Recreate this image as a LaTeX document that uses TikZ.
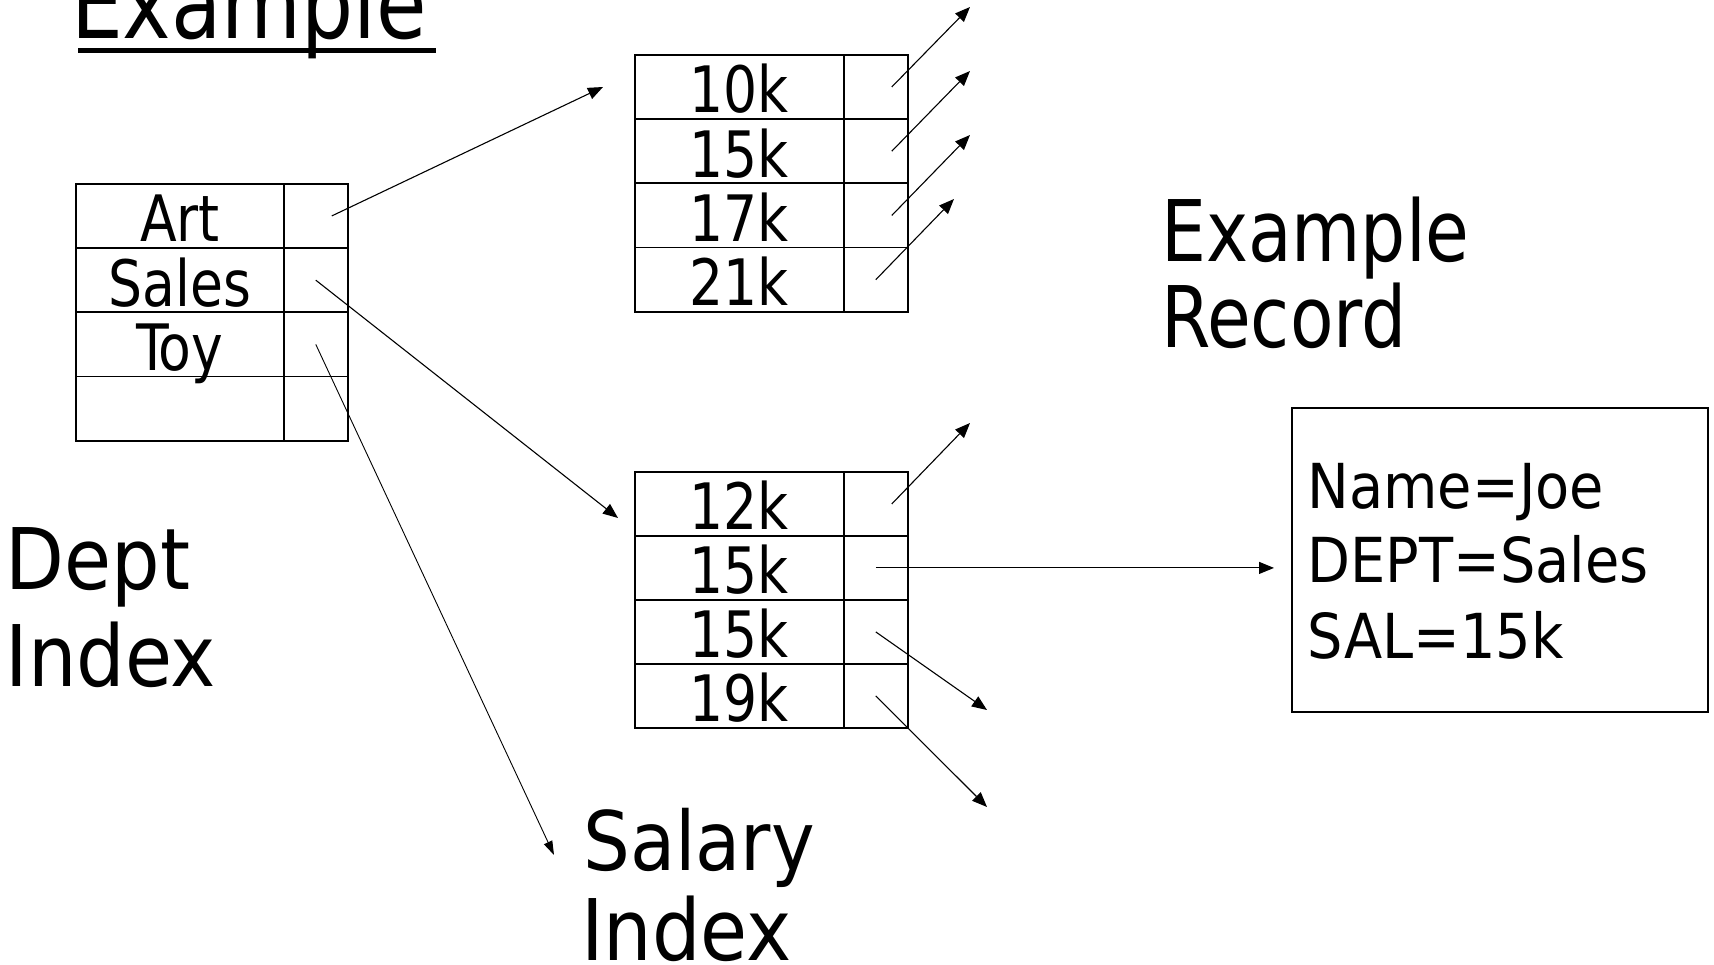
\documentclass[tikz,border=0pt]{standalone}
\usepackage{fontspec}
\setmainfont[FakeStretch=0.93]{DejaVu Sans Condensed}
\newfontfamily\widefont{DejaVu Sans Condensed}
\usetikzlibrary{arrows.meta}
\begin{document}
\begin{tikzpicture}[x=1pt,y=-1pt,
  keycell/.style={draw, line width=1.6pt, minimum width=208pt, minimum height=64.25pt, inner sep=0pt,
    text height=52pt, text depth=0pt, anchor=north west, font=\fontsize{64}{70}\selectfont},
  ptrcell/.style={draw, line width=1.6pt, minimum width=64pt, minimum height=64.25pt, inner sep=0pt, anchor=north west},
  link/.style={line width=1.1pt, -{Triangle[length=15pt,width=12pt]}},
  thinlink/.style={line width=0.9pt, -{Triangle[length=14pt,width=9pt]}},
  bigtext/.style={inner sep=0pt, anchor=base west, font=\widefont\fontsize{85}{90}\selectfont},
  extext/.style={inner sep=0pt, anchor=base west, font=\fontsize{85}{90}\selectfont},
  rectext/.style={inner sep=0pt, anchor=base west, font=\widefont\fontsize{62}{70}\selectfont},
]
\useasboundingbox (0,0) rectangle (1714,965);

% title
\node[inner sep=0pt, anchor=base west, font=\fontsize{98}{100}\selectfont] (title) at (71,39) {Example};
\draw[line width=5pt] ([yshift=-11.5pt]title.base west -| 78,0) -- ([yshift=-11.5pt]title.base west -| 436,0);

% Dept index
\node[keycell] (dk1) at (75,183) {Art};
\node[keycell] (dk2) at (75,247.25) {Sales};
\node[keycell] (dk3) at (75,311.5) {Toy};
\node[keycell] (dk4) at (75,375.75) {};
\node[ptrcell] (dp1) at (283,183) {};
\node[ptrcell] (dp2) at (283,247.25) {};
\node[ptrcell] (dp3) at (283,311.5) {};
\node[ptrcell] (dp4) at (283,375.75) {};

\node[bigtext] (dept1) at (5.5,589) {Dept};
\node[bigtext] (dept2) at (5.5,686) {Index};

% upper salary index
\node[keycell, minimum width=209pt] (tk1) at (634,54) {10k};
\node[keycell, minimum width=209pt] (tk2) at (634,118.25) {15k};
\node[keycell, minimum width=209pt] (tk3) at (634,182.5) {17k};
\node[keycell, minimum width=209pt] (tk4) at (634,246.75) {21k};
\node[ptrcell] (tp1) at (843,54) {};
\node[ptrcell] (tp2) at (843,118.25) {};
\node[ptrcell] (tp3) at (843,182.5) {};
\node[ptrcell] (tp4) at (843,246.75) {};

% lower salary index
\node[keycell, minimum width=209pt] (bk1) at (634,471) {12k};
\node[keycell, minimum width=209pt] (bk2) at (634,535) {15k};
\node[keycell, minimum width=209pt] (bk3) at (634,599) {15k};
\node[keycell, minimum width=209pt] (bk4) at (634,663) {19k};
\node[ptrcell] (bp1) at (843,471) {};
\node[ptrcell] (bp2) at (843,535) {};
\node[ptrcell] (bp3) at (843,599) {};
\node[ptrcell] (bp4) at (843,663) {};

\node[bigtext, font=\widefont\fontsize{82}{90}\selectfont] (sal1) at (583,870) {Salary};
\node[bigtext] (sal2) at (581,960) {Index};

% example record
\node[extext] (ex1) at (1161,262) {Example};
\node[extext] (ex2) at (1161,348) {Record};

\node[draw, line width=1.6pt, minimum width=416pt, minimum height=304pt, inner sep=0pt, anchor=north west] (rec) at (1291,407) {};
\node[rectext] (r1) at (1307.5,508) {Name=Joe};
\node[rectext] (r2) at (1307.5,582) {DEPT=Sales};
\node[rectext] (r3) at (1307.5,658) {SAL=15k};

% free ends
\coordinate (e1) at (603,87);
\coordinate (e2) at (618,518);
\coordinate (e3) at (554,855);
\coordinate (t1) at (970,7);
\coordinate (t2) at (970,71);
\coordinate (t3) at (970,135);
\coordinate (t4) at (954,199);
\coordinate (u1) at (970,423);
\coordinate (u3) at (987,710);
\coordinate (u4) at (987,807);

% connectors
\draw[link] ([xshift=16pt]dp1.center) -- (e1);
\draw[link] (dp2.center) -- (e2);
\draw[thinlink] (dp3.center) -- (e3);

\draw[link] ([xshift=16pt]tp1.center) -- (t1);
\draw[link] ([xshift=16pt]tp2.center) -- (t2);
\draw[link] ([xshift=16pt]tp3.center) -- (t3);
\draw[link] (tp4.center) -- (t4);

\draw[link] ([xshift=16pt]bp1.center) -- (u1);
\draw[link, shorten >=17pt] (bp2.center) -- (bp2.center -| rec.west);
\draw[link] (bp3.center) -- (u3);
\draw[link] (bp4.center) -- (u4);
\end{tikzpicture}
\end{document}
